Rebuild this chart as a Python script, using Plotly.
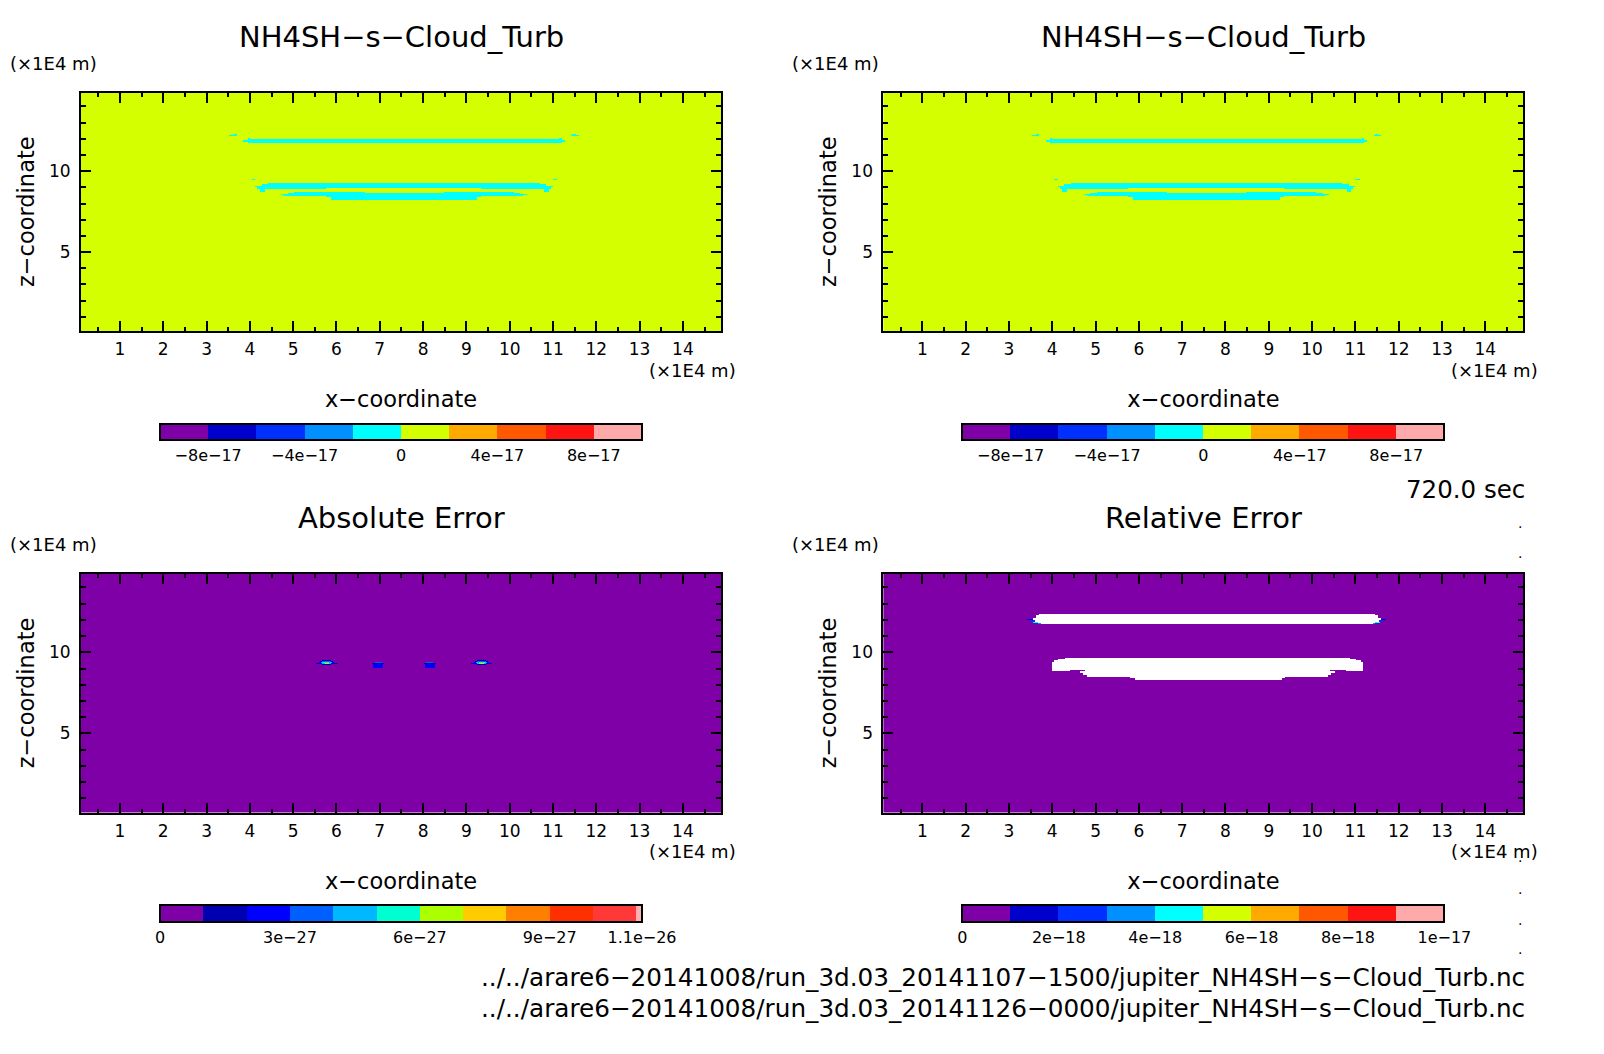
import numpy as np
import plotly.graph_objects as go

W, H = 1604, 1054

# ---------- data ----------
x_ticks = list(range(1, 15))
z_ticks = [5, 10]
x_edges_range = [0.1, 14.88]
z_edges_range = [0.125, 14.86]

level_colors = ["#8000a8", "#0000cc", "#0030ff", "#0090ff", "#00ffff", "#d4ff00",
                "#ffaa00", "#ff5800", "#ff1414", "#ffaaaa"]
abs_colors = ["#8000a8", "#0000b0", "#0000ff", "#0060ff", "#00b8ff", "#00ffd0",
              "#acff00", "#ffcc00", "#ff8000", "#ff3000", "#ff3838", "#ffb0b0"]

field_background = 1e-17
field_negative = -1e-17
# z_low, z_high, x_low, x_high of the negative cloud patches
field_patches = [
    (12.20, 12.26, 3.52, 3.70), (12.26, 12.33, 3.62, 3.70),
    (12.20, 12.26, 11.43, 11.60), (12.26, 12.33, 11.45, 11.53),
    (11.77, 12.02, 3.94, 11.20), (11.85, 11.96, 3.85, 11.28),
    (12.02, 12.08, 3.96, 3.99), (12.02, 12.08, 11.16, 11.19),
    (9.49, 9.55, 4.04, 4.12), (9.49, 9.55, 11.00, 11.09),
    (8.93, 9.24, 4.43, 10.70), (8.87, 9.18, 4.28, 5.76), (8.87, 9.18, 9.35, 10.85),
    (8.99, 9.06, 4.13, 10.99), (8.87, 8.99, 4.17, 5.76), (8.87, 8.99, 9.35, 10.95),
    (8.73, 8.87, 4.23, 4.35), (8.73, 8.87, 10.79, 10.91),
    (8.62, 8.69, 5.02, 6.66), (8.62, 8.69, 8.47, 10.10),
    (8.56, 8.62, 4.87, 10.25), (8.50, 8.56, 4.72, 10.39),
    (8.44, 8.50, 4.81, 10.31), (8.38, 8.44, 5.76, 9.35), (8.25, 8.38, 5.87, 9.25),
]

abs_max = 1.113e-26
abs_spot_centres_wide = [5.773, 9.353]
abs_spot_centres_narrow = [6.966, 8.159]
# value, z_low, z_high, half width
abs_wide_profile = [
    (1.5e-27, 9.50, 9.56, 0.092), (1.5e-27, 9.44, 9.50, 0.154), (3.5e-27, 9.44, 9.50, 0.092),
    (2.5e-27, 9.375, 9.44, 0.184), (4.5e-27, 9.375, 9.44, 0.123), (5.5e-27, 9.375, 9.44, 0.062),
    (1.5e-27, 9.31, 9.375, 0.246), (2.5e-27, 9.31, 9.375, 0.184), (4.5e-27, 9.31, 9.375, 0.123),
    (6.5e-27, 9.31, 9.375, 0.085), (8.5e-27, 9.31, 9.375, 0.046),
    (1.5e-27, 9.25, 9.31, 0.246), (2.5e-27, 9.25, 9.31, 0.17), (4.5e-27, 9.25, 9.31, 0.092),
    (7.5e-27, 9.25, 9.31, 0.046),
    (1.5e-27, 9.19, 9.25, 0.092),
]
abs_narrow_profile = [
    (1.5e-27, 9.25, 9.375, 0.139), (2.5e-27, 8.98, 9.25, 0.104),
    (1.5e-27, 9.375, 9.44, 0.077), (3.5e-27, 9.29, 9.44, 0.077),
    (4.5e-27, 9.29, 9.35, 0.038),
]

rel_max = 1e-17
# value, z_low, z_high, x_low, x_high of the coloured rim at the band tips
rel_rim = [
    (1.5e-18, 11.99, 12.05, 3.43, 3.54), (1.5e-18, 11.99, 12.05, 11.60, 11.71),
    (2.5e-18, 11.90, 11.99, 3.48, 3.60), (2.5e-18, 11.90, 11.99, 11.54, 11.66),
    (4.5e-18, 11.82, 11.90, 3.56, 3.68), (4.5e-18, 11.82, 11.90, 11.46, 11.58),
    (3.5e-18, 11.74, 11.82, 3.68, 3.75), (3.5e-18, 11.74, 11.82, 11.39, 11.46),
]
# z_low, z_high, x_low, x_high of the cells where the relative error is undefined
rel_undefined = [
    (12.28, 12.36, 3.69, 11.45), (12.15, 12.28, 3.62, 11.52), (11.99, 12.15, 3.54, 11.60),
    (11.90, 11.99, 3.60, 11.54), (11.82, 11.90, 3.68, 11.46), (11.74, 11.82, 3.75, 11.39),
    (9.58, 9.64, 4.30, 10.87), (9.52, 9.58, 4.13, 11.02), (9.40, 9.52, 4.06, 11.12),
    (8.90, 9.40, 4.00, 11.18),
    (8.80, 8.90, 4.00, 4.40), (8.80, 8.90, 4.75, 10.43), (8.80, 8.90, 10.77, 11.18),
    (8.70, 8.80, 4.66, 10.52), (8.59, 8.70, 4.71, 10.45), (8.49, 8.59, 4.79, 10.37),
    (8.39, 8.49, 5.79, 9.38), (8.28, 8.39, 5.89, 9.29),
]

field_ticks = [-8e-17, -4e-17, 0, 4e-17, 8e-17]
field_labels = ["−8e−17", "−4e−17", "0", "4e−17", "8e−17"]
abs_ticks = [0, 3e-27, 6e-27, 9e-27, 1.113e-26]
abs_labels = ["0", "3e−27", "6e−27", "9e−27", "1.1e−26"]
rel_ticks = [0, 2e-18, 4e-18, 6e-18, 8e-18, 1e-17]
rel_labels = ["0", "2e−18", "4e−18", "6e−18", "8e−18", "1e−17"]

titles = ["NH4SH−s−Cloud_Turb", "NH4SH−s−Cloud_Turb", "Absolute Error", "Relative Error"]
time_label = "720.0 sec"
paths = ["../../arare6−20141008/run_3d.03_20141107−1500/jupiter_NH4SH−s−Cloud_Turb.nc",
         "../../arare6−20141008/run_3d.03_20141126−0000/jupiter_NH4SH−s−Cloud_Turb.nc"]

# ---------- grids (slightly past the axis limits so the field fills the frame) ----------
xc = np.arange(x_edges_range[0] - 0.0375, x_edges_range[1] + 0.05, 0.025)
zc = np.arange(z_edges_range[0] - 0.09, z_edges_range[1] + 0.12, 0.06)
XX, ZZ = np.meshgrid(xc, zc)


def paint(arr, value, z0, z1, x0, x1):
    arr[(ZZ >= z0) & (ZZ < z1) & (XX >= x0) & (XX < x1)] = value


field = np.full(XX.shape, field_background, dtype=float)
for s in field_patches:
    paint(field, field_negative, *s)

absolute = np.full(XX.shape, 0.0)
for c in abs_spot_centres_wide:
    for v, z0, z1, hw in abs_wide_profile:
        paint(absolute, v, z0, z1, c - hw, c + hw)
for c in abs_spot_centres_narrow:
    for v, z0, z1, hw in abs_narrow_profile:
        paint(absolute, v, z0, z1, c - hw, c + hw)

relative = np.full(XX.shape, 0.0)
for v, z0, z1, x0, x1 in rel_rim:
    paint(relative, v, z0, z1, x0, x1)
for s in rel_undefined:
    paint(relative, np.nan, *s)


def steps(colors, bounds):
    lo, hi = bounds[0], bounds[-1]
    out = []
    for i, c in enumerate(colors):
        out.append([(bounds[i] - lo) / (hi - lo), c])
        out.append([(bounds[i + 1] - lo) / (hi - lo), c])
    return out


field_bounds = [(-10 + 2 * i) * 1e-17 for i in range(11)]
abs_bounds = [i * 1e-27 for i in range(12)] + [abs_max]
rel_bounds = [i * 1e-18 for i in range(11)]

# ---------- layout helpers (pixels of the page -> paper fractions) ----------
px = lambda v: v / W
py = lambda v: 1 - v / H

panels = [(81, 721, 92.5, 331), (883.4, 1523.4, 92.5, 331),
          (81, 721, 573.5, 812.5), (883.4, 1523.4, 573.5, 812.5)]
bars = [(160, 642, 424, 440), (962.4, 1444.4, 424, 440),
        (160, 642, 905, 921.5), (962.4, 1444.4, 905, 921.5)]
unit_left = [7.5, 789.5, 7.5, 789.5]
specs = [
    (field, field_bounds, level_colors, field_ticks, field_labels),
    (field, field_bounds, level_colors, field_ticks, field_labels),
    (absolute, abs_bounds, abs_colors, abs_ticks, abs_labels),
    (relative, rel_bounds, level_colors, rel_ticks, rel_labels),
]

FONT = "DejaVu Sans"
fig = go.Figure()
annotations = []
layout = {}
for i, ((x0, x1, y0, y1), (bx0, bx1, by0, by1), (z, bounds, cols, tv, tt)) in enumerate(zip(panels, bars, specs)):
    n = "" if i == 0 else str(i + 1)
    fig.add_trace(go.Heatmap(
        x=xc, y=zc, z=z.astype("float64"), xaxis="x" + n, yaxis="y" + n,
        zmin=bounds[0], zmax=bounds[-1], zsmooth=False, hoverongaps=False,
        colorscale=steps(cols, bounds),
        colorbar=dict(
            orientation="h", lenmode="pixels", len=bx1 - bx0, thicknessmode="pixels",
            thickness=by1 - by0, x=px((bx0 + bx1) / 2), xanchor="center", y=py(by0), yanchor="top",
            xpad=0, ypad=0, outlinecolor="black", outlinewidth=2, ticks="", tickvals=tv, ticktext=tt,
            tickfont=dict(family=FONT, size=16, color="black"), ticklabelposition="outside bottom",
        ),
    ))
    layout["xaxis" + n] = dict(
        domain=[px(x0), px(x1)], anchor="y" + n, range=x_edges_range, tickvals=x_ticks,
        ticks="inside", ticklen=10, tickwidth=2, tickcolor="black", mirror="allticks",
        showline=True, linecolor="black", linewidth=2, showgrid=False, zeroline=False,
        tickfont=dict(family=FONT, size=17, color="black"), ticklabelstandoff=2,
        minor=dict(dtick=0.5, tick0=0, ticks="inside", ticklen=4, tickwidth=1.5, tickcolor="black", showgrid=False),
        title=dict(text="x−coordinate", font=dict(family=FONT, size=22.5, color="black"), standoff=33),
    )
    layout["yaxis" + n] = dict(
        domain=[py(y1), py(y0)], anchor="x" + n, range=z_edges_range, tickvals=z_ticks,
        ticks="inside", ticklen=10, tickwidth=2, tickcolor="black", mirror="allticks",
        showline=True, linecolor="black", linewidth=2, showgrid=False, zeroline=False,
        tickfont=dict(family=FONT, size=17, color="black"), ticklabelstandoff=5,
        minor=dict(dtick=1, tick0=0, ticks="inside", ticklen=5, tickwidth=1.5, tickcolor="black", showgrid=False),
        title=dict(text="z−coordinate", font=dict(family=FONT, size=22.5, color="black"), standoff=8),
    )
    cx = (x0 + x1) / 2
    annotations.append(dict(text=titles[i], x=px(cx), y=py(y0 - 55.5), xanchor="center", yanchor="middle",
                            font=dict(family=FONT, size=29, color="black")))
    annotations.append(dict(text="(×1E4 m)", x=px(unit_left[i]), y=py(y0 - 29), xanchor="left", yanchor="middle",
                            font=dict(family=FONT, size=18, color="black")))
    annotations.append(dict(text="(×1E4 m)", x=px(x1 + 17), y=py(y1 + 39), xanchor="right", yanchor="middle",
                            font=dict(family=FONT, size=18, color="black")))

annotations.append(dict(text=time_label, x=px(1526.5), y=py(490), xanchor="right", yanchor="middle",
                        font=dict(family=FONT, size=24.5, color="black")))
for txt, yy in zip(paths, [977.5, 1008]):
    annotations.append(dict(text=txt, x=px(1526.5), y=py(yy), xanchor="right", yanchor="middle",
                            font=dict(family=FONT, size=24.7, color="black")))
for yy in [526.7, 556.7, 860, 892, 923, 952]:
    annotations.append(dict(text=".", x=px(1520), y=py(yy - 3.5), xanchor="center", yanchor="middle",
                            font=dict(family=FONT, size=14, color="black")))
for a in annotations:
    a.update(xref="paper", yref="paper", showarrow=False)

fig.update_layout(width=W, height=H, margin=dict(l=0, r=0, t=0, b=0), autosize=False,
                  paper_bgcolor="white", plot_bgcolor="white", annotations=annotations, **layout)
fig.write_html("out.html", config={"displayModeBar": False},
               post_script="document.body.style.margin='0';document.body.style.overflow='hidden';")
